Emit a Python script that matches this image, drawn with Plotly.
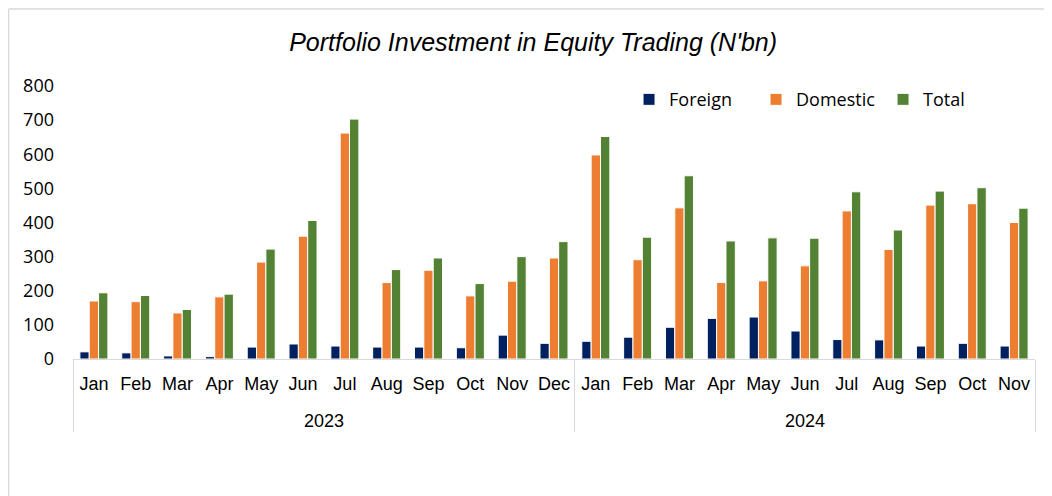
import plotly.graph_objects as go

years = ["2023"] * 12 + ["2024"] * 11
months = ["Jan", "Feb", "Mar", "Apr", "May", "Jun", "Jul", "Aug", "Sep", "Oct", "Nov", "Dec",
          "Jan", "Feb", "Mar", "Apr", "May", "Jun", "Jul", "Aug", "Sep", "Oct", "Nov"]

foreign = [21, 18, 9, 7, 35, 44, 38, 35, 35, 33, 70, 46,
           52, 64, 93, 119, 123, 82, 57, 56, 38, 46, 38]
domestic = [170, 168, 135, 182, 284, 360, 662, 224, 260, 185, 228, 296,
            598, 291, 443, 224, 229, 273, 434, 321, 451, 455, 400]
total = [194, 186, 145, 190, 322, 406, 703, 262, 296, 221, 300, 344,
         652, 357, 537, 346, 355, 354, 490, 378, 492, 502, 442]

series = [("Foreign", foreign, "#002060"),
          ("Domestic", domestic, "#ED7D31"),
          ("Total", total, "#548235")]

# month labels padded with an empty second line to open space above the year row
month_labels = [m + "<br>&nbsp;" for m in months]

fig = go.Figure()
for name, vals, col in series:
    fig.add_trace(go.Bar(
        x=[years, month_labels], y=vals, name=name,
        marker=dict(color=col, line=dict(color="white", width=1)),
    ))

W, H = 1044, 488
L, R, T, B = 65, 17, 78, 137

fig.update_layout(
    width=W, height=H,
    barmode="group", bargap=0.33, bargroupgap=0,
    plot_bgcolor="white", paper_bgcolor="white",
    margin=dict(l=L, r=R, t=T, b=B, autoexpand=False),
    title=dict(text="Portfolio Investment in Equity Trading (N'bn)",
               x=0.503, xref="container", xanchor="center",
               y=0.930, yref="container", yanchor="middle",
               font=dict(family="Liberation Sans, Arial", size=25, color="#000000", style="italic")),
    legend=dict(orientation="h", x=0.578, xanchor="left", y=0.95, yanchor="middle",
                font=dict(family="Open Sans", size=18, color="#000000"),
                bgcolor="rgba(0,0,0,0)", itemwidth=30, traceorder="normal",
                entrywidth=82),
    showlegend=True,
)

fig.update_xaxes(
    type="multicategory", tickangle=0,
    showline=True, linecolor="#D9D9D9", linewidth=1,
    showdividers=True, dividercolor="#D9D9D9", dividerwidth=1,
    ticks="", showgrid=False,
    tickfont=dict(family="Liberation Sans, Arial", size=18, color="#000000"),
    ticklabelstandoff=8,
)
fig.update_yaxes(
    range=[0, 800], tickvals=[0, 100, 200, 300, 400, 500, 600, 700, 800],
    showgrid=False, showline=False, zeroline=False, ticks="",
    tickfont=dict(family="Open Sans", size=18, color="#000000"),
    ticklabelstandoff=18,
)

PW, PH = W - L - R, H - T - B
# chart border (left and top edges)
fig.add_shape(type="line", xref="paper", yref="paper",
              x0=(0.5 - L) / PW, x1=(0.5 - L) / PW, y0=-B / PH, y1=(H - B - 1) / PH,
              line=dict(color="#D9D9D9", width=1.5))
fig.add_shape(type="line", xref="paper", yref="paper",
              x0=(0.5 - L) / PW, x1=(W - L) / PW, y0=(H - B - 1) / PH, y1=(H - B - 1) / PH,
              line=dict(color="#D9D9D9", width=1.5))

fig.write_html("out.html")
